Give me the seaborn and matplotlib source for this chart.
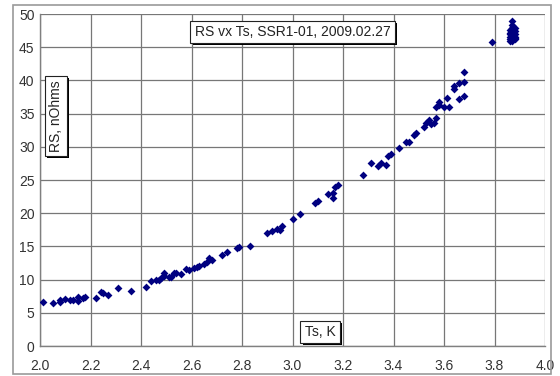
import matplotlib
matplotlib.use("Agg")
import matplotlib.pyplot as plt
import matplotlib.patheffects as pe
from matplotlib.patches import Rectangle
from matplotlib.ticker import MultipleLocator, FormatStrFormatter
import pandas as pd
import seaborn as sns

# values
ts = [2.01, 2.05, 2.08, 2.08, 2.10, 2.12, 2.13, 2.15, 2.15, 2.17, 2.18,
      2.22, 2.24, 2.25, 2.27, 2.31, 2.36, 2.42, 2.44, 2.46, 2.47, 2.48,
      2.49, 2.49, 2.51, 2.52, 2.53, 2.54, 2.56, 2.58, 2.59, 2.61, 2.62,
      2.63, 2.65, 2.66, 2.67, 2.68, 2.72, 2.74, 2.78, 2.79, 2.83, 2.90,
      2.92, 2.94, 2.95, 2.96, 3.00, 3.03, 3.09, 3.10, 3.14, 3.16, 3.16,
      3.17, 3.18, 3.28, 3.31, 3.34, 3.35, 3.37, 3.38, 3.39, 3.42, 3.45,
      3.46, 3.48, 3.49, 3.52, 3.53, 3.54, 3.55, 3.56, 3.57, 3.57, 3.58,
      3.58, 3.60, 3.61, 3.62, 3.64, 3.64, 3.66, 3.66, 3.68, 3.68, 3.68,
      3.79, 3.86, 3.86, 3.86, 3.87, 3.87, 3.87, 3.88, 3.88, 3.88, 3.88,
      3.86, 3.87, 3.87, 3.86, 3.87, 3.88, 3.86, 3.88, 3.87]
rs = [6.6, 6.5, 6.6, 6.9, 7.1, 6.9, 7.0, 7.4, 6.8, 7.2, 7.4,
      7.2, 8.2, 8.0, 7.7, 8.7, 8.3, 8.9, 9.8, 9.9, 9.9, 10.2,
      10.5, 11.0, 10.4, 10.4, 11.0, 11.0, 10.8, 11.6, 11.5, 11.7, 11.9,
      12.0, 12.3, 12.7, 13.2, 12.9, 13.7, 14.2, 14.7, 14.9, 15.1, 17.0,
      17.3, 17.6, 17.5, 18.1, 19.1, 19.9, 21.5, 21.8, 22.9, 22.3, 23.0,
      24.0, 24.2, 25.8, 27.5, 27.1, 27.5, 27.2, 28.6, 28.9, 29.8, 30.7,
      30.7, 31.8, 32.1, 33.0, 33.6, 34.0, 33.4, 33.6, 34.3, 36.0, 36.3,
      36.8, 36.0, 37.3, 36.0, 38.7, 39.2, 39.6, 37.2, 37.7, 39.7, 41.2,
      45.8, 46.5, 47.0, 46.2, 47.3, 46.8, 46.0, 47.5, 46.6, 46.3, 47.0,
      47.6, 48.3, 49.0, 45.9, 47.9, 46.4, 47.2, 47.9, 46.6]

df = pd.DataFrame({"Ts": ts, "RS": rs})

sns.set_style("white")
plt.rcParams["font.family"] = ["Liberation Sans", "DejaVu Sans"]

fig = plt.figure(figsize=(5.6, 3.76), dpi=100)
ax = fig.add_axes([40 / 560, 1 - 346 / 376, 505 / 560, 332 / 376])

# outer frame of the chart
fig.patches.append(Rectangle((13 / 560, 1 - 374 / 376), 538 / 560, 369 / 376,
                             transform=fig.transFigure, fill=False,
                             ec="#9a9a9a", lw=1.2))

sns.scatterplot(data=df, x="Ts", y="RS", ax=ax, marker="D", s=16,
                color="#000080", linewidth=0, zorder=3)

ax.set_xlim(2.0, 4.0)
ax.set_ylim(0, 50)
ax.xaxis.set_major_locator(MultipleLocator(0.2))
ax.yaxis.set_major_locator(MultipleLocator(5))
ax.yaxis.set_minor_locator(MultipleLocator(1))
ax.xaxis.set_major_formatter(FormatStrFormatter("%.1f"))
ax.grid(True, which="major", color="#777777", lw=0.9)
ax.set_axisbelow(True)

for side in ["top", "right"]:
    ax.spines[side].set_visible(False)
for side in ["left", "bottom"]:
    ax.spines[side].set_color("#808080")
    ax.spines[side].set_linewidth(1.0)

ax.tick_params(axis="both", which="major", direction="inout", length=6,
               width=0.9, color="#808080", labelsize=10, labelcolor="#333333")
ax.tick_params(axis="y", which="major", pad=1)
ax.tick_params(axis="x", which="major", pad=6)
ax.tick_params(axis="y", which="minor", direction="in", length=3,
               width=0.8, color="#808080")
ax.set_xlabel("")
ax.set_ylabel("")


def label_box(x, y, txt, rot=0):
    t = ax.text(x, y, txt, ha="center", va="center", rotation=rot,
                fontsize=10, color="#222222", zorder=5,
                bbox=dict(boxstyle="square,pad=0.3", fc="white",
                          ec="#222222", lw=0.8))
    t.get_bbox_patch().set_path_effects(
        [pe.SimplePatchShadow(offset=(1.5, -1.5), shadow_rgbFace="black",
                              alpha=1.0), pe.Normal()])
    return t


label_box(3.0, 47.3, "RS vx Ts, SSR1-01, 2009.02.27")
label_box(2.063, 34.6, "RS, nOhms", rot=90)
label_box(3.109, 2.1, "Ts, K")

fig.savefig("out.png", dpi=100)
